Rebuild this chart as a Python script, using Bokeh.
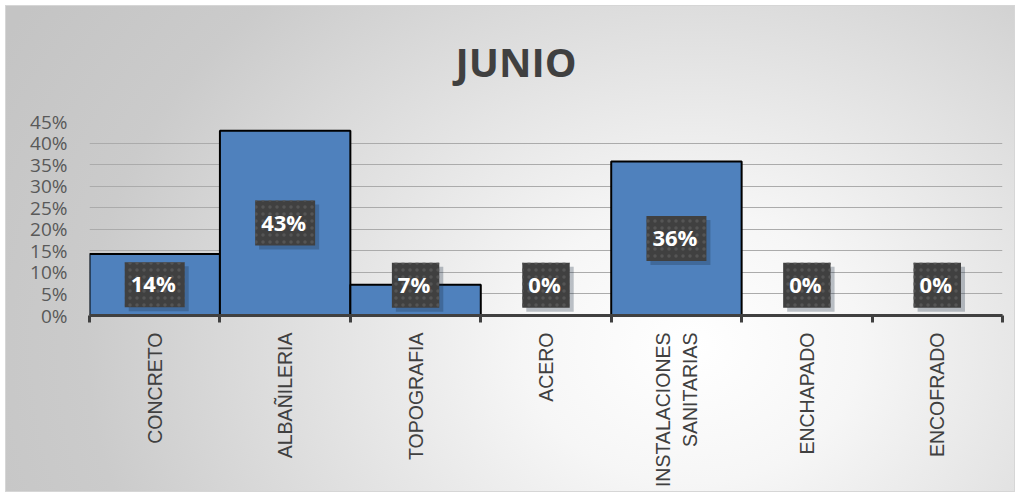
import math
from bokeh.plotting import figure
from bokeh.models import FixedTicker, NumeralTickFormatter, ColumnDataSource
from bokeh.core.properties import value
from bokeh.embed import file_html
from bokeh.resources import INLINE

categories = ["CONCRETO", "ALBAÑILERIA", "TOPOGRAFIA", "ACERO",
              "INSTALACIONES\nSANITARIAS", "ENCHAPADO", "ENCOFRADO"]
values = [0.1429, 0.4286, 0.0714, 0.0, 0.3571, 0.0, 0.0]
y_ticks = [0.0, 0.05, 0.10, 0.15, 0.20, 0.25, 0.30, 0.35, 0.40, 0.45]
title_text = "JUNIO"

xs = [i + 0.5 for i in range(len(categories))]
labels = [f"{round(v * 100)}%" for v in values]
label_y = [max(v / 2, 0.07) for v in values]
src = ColumnDataSource(dict(x=xs, v=values, lab=labels, ly=label_y))

p = figure(width=1020, height=497, x_range=(0, len(categories)), y_range=(0, 0.45),
           output_backend="svg", toolbar_location=None, title=title_text,
           min_border_left=89, min_border_right=18, min_border_top=121, min_border_bottom=182)
p.background_fill_color = None
p.border_fill_color = None
p.outline_line_color = None
p.styles = {
    "background": "radial-gradient(ellipse 60% 100% at 68% 70%, #ffffff 0%, #f6f6f6 28%, #dedede 68%, #cbcbcb 100%, #c4c4c4 130%) no-repeat 6px 6px / 1008px 486px, #ffffff",
    "outline": "1px solid #d6d6d6",
    "outline-offset": "-6px",
}

p.title.text_font = "Open Sans"
p.title.text_font_size = "40px"
p.title.text_font_style = "bold"
p.title.text_color = "#404040"
p.title.align = "left"
p.title.offset = 366
p.title.standoff = 62
p.title.vertical_align = "top"

# y axis
p.yaxis.ticker = FixedTicker(ticks=y_ticks)
p.yaxis.formatter = NumeralTickFormatter(format="0%")
p.yaxis.axis_line_color = None
p.yaxis.major_tick_line_color = None
p.yaxis.minor_tick_line_color = None
p.yaxis.major_tick_out = 0
p.yaxis.major_tick_in = 0
p.yaxis.major_label_standoff = 22
p.yaxis.major_label_text_font = "Open Sans"
p.yaxis.major_label_text_font_size = "19px"
p.yaxis.major_label_text_color = "#595959"

p.ygrid.ticker = FixedTicker(ticks=y_ticks)
p.ygrid.grid_line_color = "#ababab"
p.ygrid.grid_line_width = 1
p.xgrid.visible = False

# x axis
p.xaxis.ticker = FixedTicker(ticks=xs, minor_ticks=list(range(len(categories) + 1)))
p.xaxis.major_label_overrides = {x: c for x, c in zip(xs, categories)}
p.xaxis.major_label_orientation = math.pi / 2
p.xaxis.major_tick_out = 0
p.xaxis.major_tick_in = 0
p.xaxis.major_tick_line_color = None
p.xaxis.minor_tick_out = 7
p.xaxis.minor_tick_in = 0
p.xaxis.minor_tick_line_color = "#404040"
p.xaxis.minor_tick_line_width = 3
p.xaxis.axis_line_color = "#404040"
p.xaxis.axis_line_width = 3
p.xaxis.major_label_standoff = 10
p.xaxis.major_label_text_font = "Liberation Sans"
p.xaxis.major_label_text_font_size = "19.5px"
p.xaxis.major_label_text_color = "#404040"

p.vbar(x="x", top="v", width=1, bottom=0, source=src,
       fill_color="#4f81bd", line_color="#000000", line_width=2)

# label shadow
p.text(x="x", y="ly", text="lab", source=src, text_align="center", text_baseline="middle",
       text_font=value("Open Sans"), text_font_style="bold", text_font_size="22px",
       text_alpha=0, x_offset=4, y_offset=4,
       background_fill_color="#1a2a40", background_fill_alpha=0.28, padding=(6, 9, 6, 9))
# labels
p.text(x="x", y="ly", text="lab", source=src, text_align="center", text_baseline="middle",
       text_font=value("Open Sans"), text_font_style="bold", text_font_size="22px",
       text_color="#ffffff",
       background_fill_color="#404040", background_hatch_pattern="dot",
       background_hatch_color="#555555", background_hatch_scale=7, background_hatch_weight=1,
       padding=(6, 9, 6, 9))

open("out.html", "w").write(file_html(p, INLINE))
